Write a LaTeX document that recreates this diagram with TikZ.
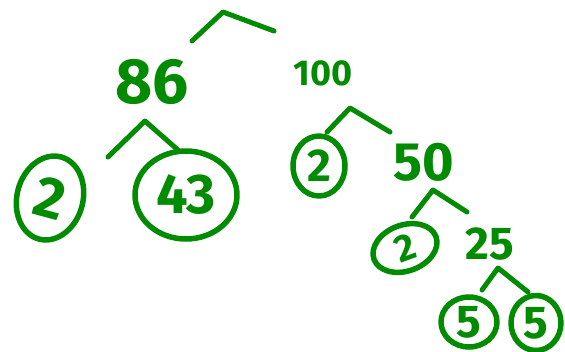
\documentclass[tikz,border=0pt]{standalone}
\usepackage{fontspec}
\setmainfont{Fira Sans}
\usepackage{tikz}
\usetikzlibrary{shapes.geometric}
\usepackage{xcolor}
\definecolor{pen}{RGB}{0,139,0}

\begin{document}
\begin{tikzpicture}[x=1pt, y=-1pt, pen, line width=5pt, line cap=round, line join=round,
    num/.style={text=pen, font=\bfseries\fontsize{#1}{#1}\selectfont, inner sep=0pt},
    ring/.style={draw=pen, ellipse, inner sep=0pt, line width=5.5pt}]
    \useasboundingbox (0,0) rectangle (565,351);
    % Arbre de facteurs
    \node[num=64] (n86) at (152,82) {86};
    \node[num=36] (n100) at (323,73) {100};
    \node[num=58, ring, minimum width=66, minimum height=85, rotate=-15] (n2a) at (50,198) {2};
    \node[num=56, ring, minimum width=102, minimum height=88] (n43) at (186,195) {43};
    \node[num=46, ring, minimum width=52, minimum height=60] (n2b) at (319,166) {2};
    \node[num=54] (n50) at (424,162) {50};
    \node[num=38, ring, minimum width=66, minimum height=46, rotate=20] (n2c) at (405,248) {2};
    \node[num=46] (n25) at (490,244) {25};
    \node[num=46, ring, minimum width=56, minimum height=50] (n5a) at (469,322) {5};
    \node[num=46, ring, minimum width=50, minimum height=55] (n5b) at (536,323) {5};
    % Branches
    \coordinate (t1) at (192,41); \coordinate (t0) at (223,12); \coordinate (t2) at (274,31);
    \coordinate (a1) at (108,157); \coordinate (a0) at (145,121); \coordinate (a2) at (178,150);
    \coordinate (b1) at (327,132); \coordinate (b0) at (350,108); \coordinate (b2) at (390,132);
    \coordinate (c1) at (412,217); \coordinate (c0) at (433,190); \coordinate (c2) at (467,212);
    \coordinate (d1) at (482,290); \coordinate (d0) at (498,268); \coordinate (d2) at (528,292);
    \draw (t1) -- (t0) -- (t2);
    \draw (a1) -- (a0) -- (a2);
    \draw (b1) -- (b0) -- (b2);
    \draw (c1) -- (c0) -- (c2);
    \draw (d1) -- (d0) -- (d2);
\end{tikzpicture}
\end{document}
